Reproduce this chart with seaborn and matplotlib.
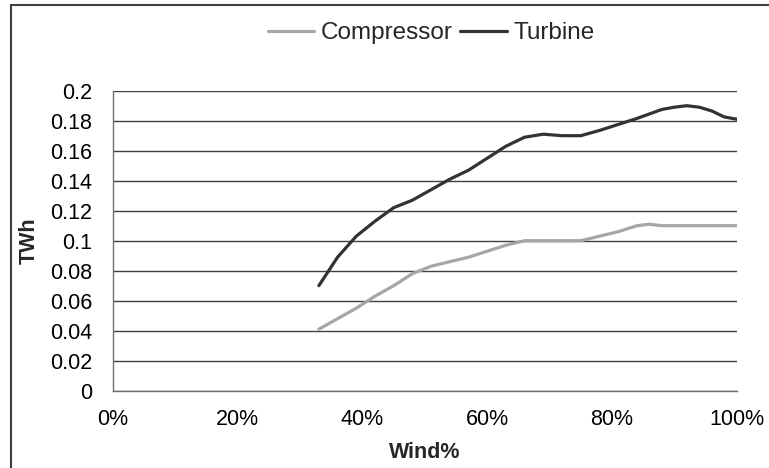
import matplotlib
matplotlib.use("Agg")
import matplotlib.pyplot as plt
import matplotlib.ticker as mticker
from matplotlib.lines import Line2D
import seaborn as sns
import pandas as pd

wind = [0.33, 0.36, 0.39, 0.42, 0.45, 0.48, 0.51, 0.54, 0.57, 0.60, 0.63, 0.66,
        0.69, 0.72, 0.75, 0.78, 0.81, 0.84, 0.86, 0.88, 0.90, 0.92, 0.94, 0.96,
        0.98, 1.00]
compressor = [0.041, 0.048, 0.055, 0.063, 0.070, 0.078, 0.083, 0.086, 0.089, 0.093,
              0.097, 0.100, 0.100, 0.100, 0.100, 0.103, 0.106, 0.110, 0.111, 0.110,
              0.110, 0.110, 0.110, 0.110, 0.110, 0.110]
turbine = [0.070, 0.089, 0.103, 0.113, 0.122, 0.127, 0.134, 0.141, 0.147, 0.155,
           0.163, 0.169, 0.171, 0.170, 0.170, 0.1735, 0.1775, 0.1815, 0.1845, 0.1875,
           0.189, 0.190, 0.189, 0.1865, 0.1825, 0.181]
series_names = ["Compressor", "Turbine"]
colors = ["#a6a6a6", "#333333"]
x_ticks = [0, 0.2, 0.4, 0.6, 0.8, 1.0]
y_ticks = [0, 0.02, 0.04, 0.06, 0.08, 0.1, 0.12, 0.14, 0.16, 0.18, 0.2]

df = pd.DataFrame({
    "Wind": wind * 2,
    "TWh": compressor + turbine,
    "Series": [series_names[0]] * len(wind) + [series_names[1]] * len(wind),
})

sns.set_style("white")
plt.rcParams["font.family"] = ["Liberation Sans", "DejaVu Sans"]

fig = plt.figure(figsize=(7.69, 4.68), dpi=100)
ax = fig.add_axes([0.147, 0.1652, 0.811, 0.641])

sns.lineplot(data=df, x="Wind", y="TWh", hue="Series", hue_order=series_names,
             palette=colors, linewidth=2.3, ax=ax, legend=True)

ax.set_xlim(0, 1)
ax.set_ylim(0, 0.2)
ax.set_xticks(x_ticks)
ax.set_yticks(y_ticks)
ax.xaxis.set_major_formatter(mticker.PercentFormatter(xmax=1, decimals=0))
ax.yaxis.set_major_formatter(mticker.FuncFormatter(lambda v, p: f"{round(v, 4):g}"))
ax.tick_params(axis="both", labelsize=15.5, colors="#000000", length=7, width=1,
               direction="out")
ax.tick_params(axis="x", pad=6, color="#606060")
ax.tick_params(axis="y", pad=8, color="#606060")
ax.yaxis.grid(True, color="#404040", linewidth=1)
ax.xaxis.grid(False)
ax.set_axisbelow(True)
for s in ["top", "right"]:
    ax.spines[s].set_visible(False)
for s in ["left", "bottom"]:
    ax.spines[s].set_color("#707070")
    ax.spines[s].set_linewidth(1)

ax.set_xlabel("Wind%", fontsize=15.5, fontweight="bold", labelpad=9)
ax.set_ylabel("TWh", fontsize=15.5, fontweight="bold", labelpad=7)

handles, labels = ax.get_legend_handles_labels()
ax.legend(handles, labels, loc="center", bbox_to_anchor=(0.561, 0.929),
          bbox_transform=fig.transFigure, ncol=2, frameon=False, fontsize=17.5,
          handlelength=1.9, handletextpad=0.3, columnspacing=0.3)

fig.add_artist(Line2D([0.0143, 0.0143], [0, 0.989], transform=fig.transFigure,
                      color="#404040", linewidth=1.5))
fig.add_artist(Line2D([0.0143, 1.0], [0.989, 0.989], transform=fig.transFigure,
                      color="#404040", linewidth=1.5))

fig.savefig("out.png", dpi=100)
